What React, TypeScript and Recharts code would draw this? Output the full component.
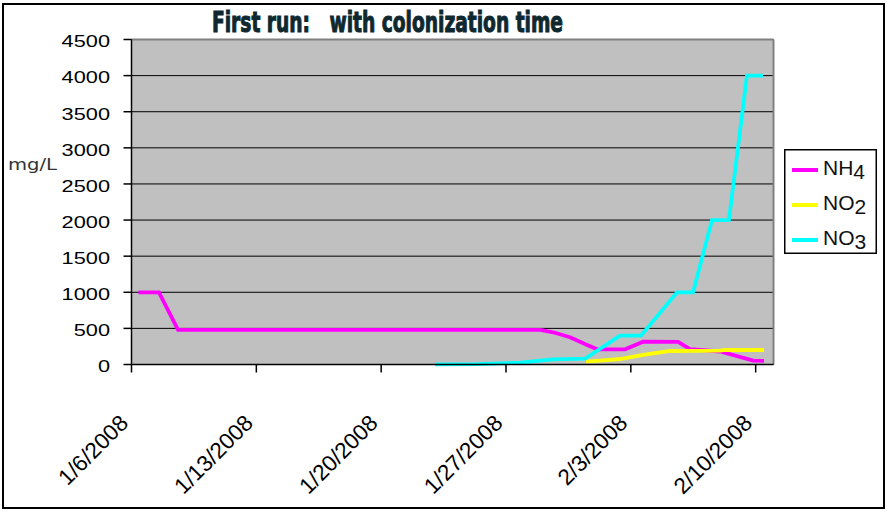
import { LineChart, Line, XAxis, YAxis, CartesianGrid, Legend, ReferenceLine } from 'recharts'

// x is days since 1/6/2008
const dayTicks = [0, 7, 14, 21, 28, 35]
const dateLabels = ['1/6/2008', '1/13/2008', '1/20/2008', '1/27/2008', '2/3/2008', '2/10/2008']
const yTicks = [0, 500, 1000, 1500, 2000, 2500, 3000, 3500, 4000, 4500]

const nh4Days = [0.39, 1.54, 2.61, 22.91, 23.64, 24.59, 25.55, 26.11, 27.68, 28.69, 30.65, 31.32, 33.01, 34.86, 35.47]
const nh4Values = [1000, 1000, 480, 480, 446, 377, 270, 210, 210, 316, 312, 212, 180, 53, 50]

const no2Days = [25.49, 26.27, 27.39, 28.69, 30.2, 33.01, 33.29, 35.47]
const no2Values = [39, 55, 76, 132, 187, 191, 201, 201]

const no3Days = [17.02, 19.38, 21.84, 23.64, 25.43, 27.39, 28.57, 30.59, 31.49, 32.55, 33.5, 34.51, 35.41]
const no3Values = [2, 5, 25, 72, 80, 400, 400, 1000, 1000, 2000, 2000, 4000, 4000]

const toPoints = (days: number[], vals: number[]) => days.map((t, i) => ({ t, v: vals[i] }))

const series = [
  { name: 'NH4', color: '#ff00ff', data: toPoints(nh4Days, nh4Values) },
  { name: 'NO2', color: '#ffff00', data: toPoints(no2Days, no2Values) },
  { name: 'NO3', color: '#00ffff', data: toPoints(no3Days, no3Values) },
]

const FONT = 'Liberation Sans, Arial, sans-serif'

const YTick = ({ x, y, payload }: any) => (
  <text
    transform={`translate(${x},${y + 7.8}) scale(1.28,1)`}
    textAnchor="end" fontSize={17} fill="#000" fontFamily={FONT}
  >
    {payload.value}
  </text>
)

const XTick = ({ x, y, payload }: any) => (
  <text
    transform={`translate(${x - 2},${y + 50}) rotate(-45)`}
    textAnchor="end" fontSize={22.5} fill="#000" fontFamily={FONT}
  >
    {dateLabels[dayTicks.indexOf(payload.value)]}
  </text>
)

const LegendBox = ({ payload }: any) => (
  <svg width={93} height={105} style={{ display: 'block' }}>
    <rect x={0.75} y={0.75} width={91.5} height={103.5} fill="#fff" stroke="#000" strokeWidth={1.5} />
    {(payload || []).map((p: any, i: number) => {
      const cy = 21 + i * 35
      const name = String(p.value)
      return (
        <g key={name}>
          <line x1={8} x2={34} y1={cy} y2={cy} stroke={p.color} strokeWidth={4} />
          <text x={39} y={cy + 5} fontSize={21} fill="#111" fontFamily={FONT}>
            {name.slice(0, -1)}
            <tspan dy={4}>{name.slice(-1)}</tspan>
          </text>
        </g>
      )
    })}
  </svg>
)

export default function App() {
  return (
    <div style={{ position: 'absolute', left: 0, top: 0, width: 887, height: 513, background: '#fff' }}>
      <LineChart
        width={887} height={513}
        margin={{ top: 39.5, right: 113.5, bottom: 0, left: 51.5 }}
      >
        <CartesianGrid vertical={false} stroke="#000" strokeWidth={1} fill="#c0c0c0" fillOpacity={1} />
        <XAxis
          type="number" dataKey="t" domain={[0, 36]} ticks={dayTicks} allowDataOverflow
          axisLine={{ stroke: '#000', strokeWidth: 1.5 }} tickLine={{ stroke: '#000', strokeWidth: 1.5 }}
          tickSize={8} tick={<XTick />} height={148.5} interval={0}
        />
        <YAxis
          type="number" dataKey="v" domain={[0, 4500]} ticks={yTicks} width={80}
          axisLine={{ stroke: '#000', strokeWidth: 1.5 }} tickLine={{ stroke: '#000', strokeWidth: 1.5 }}
          tickSize={8} tickMargin={13.5} tick={<YTick />} interval={0}
        />
        <ReferenceLine y={4500} stroke="#808080" strokeWidth={2} />
        <ReferenceLine x={36} stroke="#808080" strokeWidth={2} />
        {series.map(s => (
          <Line
            key={s.name} name={s.name} data={s.data} dataKey="v" type="linear"
            stroke={s.color} strokeWidth={3.8} dot={false} activeDot={false}
            isAnimationActive={false}
          />
        ))}
        <Legend
          layout="vertical" align="center" verticalAlign="middle"
          content={<LegendBox />}
          wrapperStyle={{ position: 'absolute', left: 784, top: 149, width: 93, height: 105 }}
        />
      </LineChart>
      <svg width={887} height={513} style={{ position: 'absolute', left: 0, top: 0, pointerEvents: 'none' }}>
        <rect x={3} y={4} width={881} height={504} fill="none" stroke="#000" strokeWidth={2} />
        <text
          x={212} y={32.3} fontSize={28} fontWeight="bold" fill="#0f2830" stroke="#0f2830" strokeWidth={1}
          fontFamily="Liberation Sans Narrow, DejaVu Sans Condensed, Liberation Sans, sans-serif"
          textLength={351} lengthAdjust="spacingAndGlyphs" style={{ whiteSpace: 'pre' }}
        >
          First run:   with colonization time
        </text>
        <text
          x={8} y={169.5} fontSize={15.5} fill="#333"
          fontFamily="DejaVu Sans, Verdana, sans-serif"
          textLength={49} lengthAdjust="spacingAndGlyphs"
        >
          mg/L
        </text>
      </svg>
    </div>
  )
}
